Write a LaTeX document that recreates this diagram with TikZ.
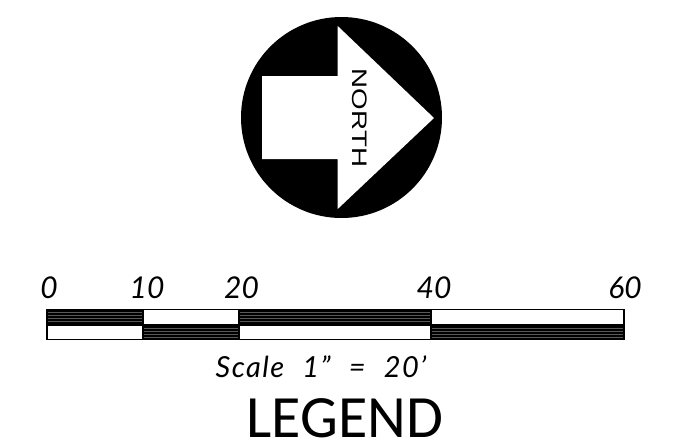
\documentclass[tikz,border=0pt]{standalone}
\usepackage{fontspec}
\setmainfont{Liberation Sans}
\newfontfamily\legendfont{Carlito}
\newfontfamily\numfont{Lato}
\newfontfamily\scalefont[LetterSpace=5,WordSpace=2.2]{Lato}
\tikzset{
  scalenum/.style = {inner sep=0pt, anchor=base, font=\numfont\itshape\fontsize{30}{30}\selectfont},
  scaletext/.style = {inner sep=0pt, anchor=base, font=\scalefont\itshape\fontsize{29}{29}\selectfont},
  barcell/.style = {draw=black, line width=1.2pt, fill=white},
  hatchcell/.style = {draw=black, line width=1.2pt, fill=black},
  hatchline/.style = {draw=white!35!black, line width=0.4pt}
}
\begin{document}
\begin{tikzpicture}[x=1pt, y=-1pt]
	\useasboundingbox (0,0) rectangle (691,439);
	% north arrow
	\fill [black] (341.5,117.5) circle (100.5);
	\fill [white] (434,118) -- (337.7,26) -- (337.7,76) -- (262,76) -- (262,159) -- (337.7,159) -- (337.7,209) -- cycle;
	\node [rotate=-90, xscale=1.32, inner sep=0pt, font=\fontsize{21}{21}\selectfont] (north) at (360,118) {NORTH};
	% scale bar
	\foreach \xa/\xb/\ya/\yb/\kind in {47/143/309.5/325/hatchcell, 47/143/325/339.5/barcell,
		143/239/309.5/325/barcell, 143/239/325/339.5/hatchcell,
		239/431/309.5/325/hatchcell, 239/431/325/339.5/barcell,
		431/624/309.5/325/barcell, 431/624/325/339.5/hatchcell}
		\draw [\kind] (\xa,\ya) rectangle (\xb,\yb);
	\foreach \xa/\xb/\ya in {47/143/309.5, 143/239/325, 239/431/309.5, 431/624/325}
		\foreach \k in {1,...,4}
			\draw [hatchline] (\xa+0.6,\ya+3*\k) -- (\xb-0.6,\ya+3*\k);
	\node [scalenum] (n0) at (49,298) {0};
	\node [scalenum] (n10) at (147,298) {10};
	\node [scalenum] (n20) at (241.5,298) {20};
	\node [scalenum] (n40) at (434,298) {40};
	\node [scalenum] (n60) at (625,298) {60};
	\node [scaletext] (scale) at (321,377) {Scale 1” = 20’};
	\node [inner sep=0pt, anchor=base, text depth=0pt, font=\legendfont\fontsize{60}{60}\selectfont] (legend) at (345,437.5) {LEGEND};
\end{tikzpicture}
\end{document}
